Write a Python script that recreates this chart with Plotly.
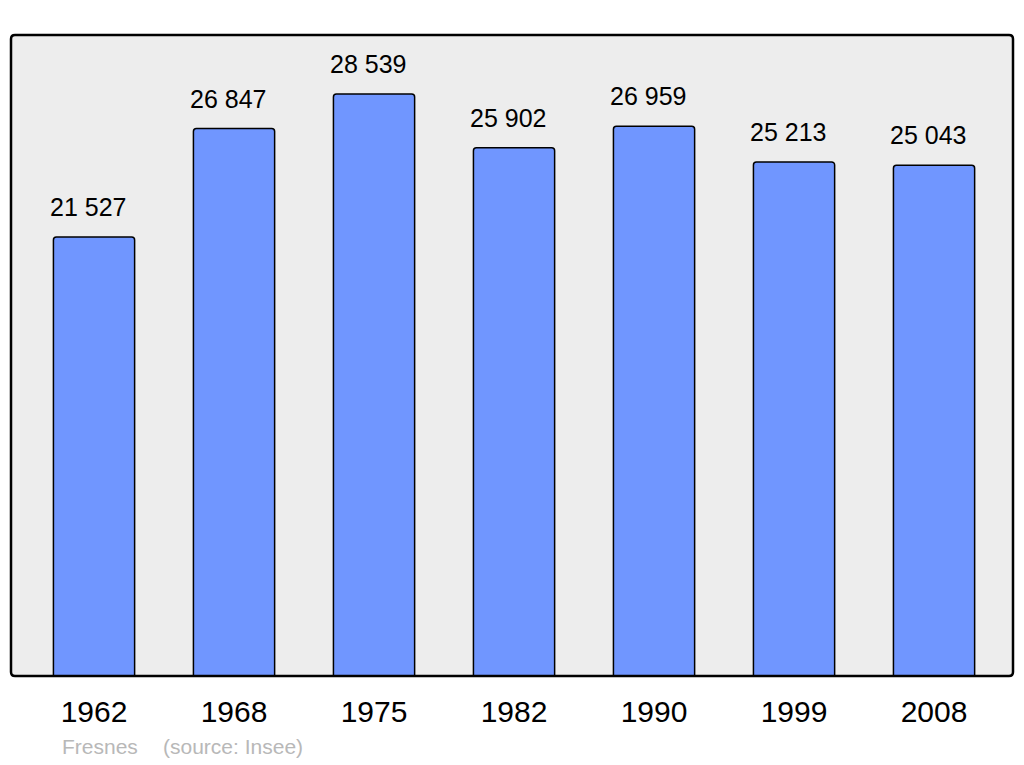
import plotly.graph_objects as go

years = ["1962", "1968", "1975", "1982", "1990", "1999", "2008"]
population = [21527, 26847, 28539, 25902, 26959, 25213, 25043]
commune = "Fresnes"
source = "(source: Insee)"

FONT = "Liberation Sans, Arial, sans-serif"
W, H = 1024, 765
L, R, T, B = 11, 11, 35, 89
pw, ph = W - L - R, H - T - B

fig = go.Figure()
fig.add_trace(go.Bar(
    x=years, y=population, width=0.58,
    marker=dict(color="#7096ff", line=dict(color="black", width=1.5), cornerradius=3),
    hoverinfo="skip",
))

for i, v in enumerate(population):
    fig.add_annotation(x=i, y=v, text=f"{v:,}".replace(",", " "), showarrow=False,
                       yanchor="bottom", yshift=14, xshift=-6,
                       font=dict(family=FONT, size=25, color="black"))

fig.add_annotation(xref="paper", yref="paper", x=(60 - L) / pw, y=(676 - 746) / ph,
                   text=commune, showarrow=False, xanchor="left", yanchor="middle",
                   font=dict(family=FONT, size=21, color="#b8b8b8"))
fig.add_annotation(xref="paper", yref="paper", x=(161 - L) / pw, y=(676 - 746) / ph,
                   text=source, showarrow=False, xanchor="left", yanchor="middle",
                   font=dict(family=FONT, size=21, color="#b8b8b8"))

# rounded frame
r = 4
rx, ry = r / pw, r / ph
path = (f"M {rx} 0 L {1-rx} 0 Q 1 0 1 {ry} L 1 {1-ry} Q 1 1 {1-rx} 1 "
        f"L {rx} 1 Q 0 1 0 {1-ry} L 0 {ry} Q 0 0 {rx} 0 Z")
fig.add_shape(type="path", xref="paper", yref="paper", path=path,
              line=dict(color="black", width=2.5), layer="above")

fig.update_layout(
    width=W, height=H,
    margin=dict(l=L, r=R, t=T, b=B, pad=0),
    paper_bgcolor="white", plot_bgcolor="#ededed",
    showlegend=False,
    font=dict(family=FONT),
    xaxis=dict(type="category", range=[-0.593, 6.564], showgrid=False, zeroline=False,
               showline=False, ticks="outside", ticklen=9, tickcolor="rgba(0,0,0,0)",
               tickfont=dict(family=FONT, size=30, color="black"), fixedrange=True),
    yaxis=dict(range=[0, 31436], visible=False, showgrid=False, zeroline=False, fixedrange=True),
)

fig.write_html("out.html", config={"displayModeBar": False},
               post_script="document.body.style.margin='0';")
